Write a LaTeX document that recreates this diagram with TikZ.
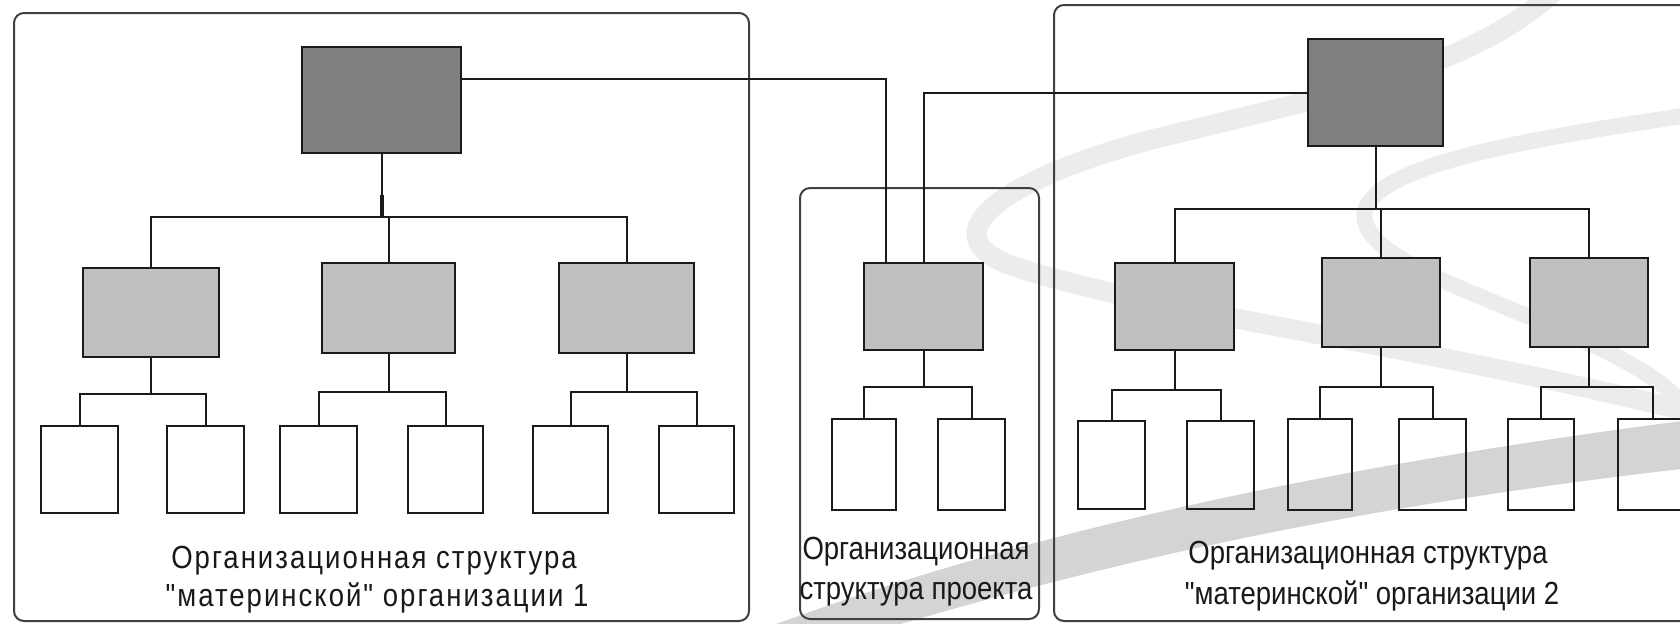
\documentclass[tikz,border=0pt]{standalone}
\usepackage{fontspec}
\setmainfont{Liberation Sans}
\newfontfamily\narrowfont[FakeStretch=0.86,Ligatures=TeXOff]{Liberation Sans}
\newfontfamily\spacedfont[FakeStretch=0.86,LetterSpace=6.3,Ligatures=TeXOff]{Liberation Sans}
\usetikzlibrary{calc}
\definecolor{darkfill}{HTML}{7F7F7F}
\definecolor{midfill}{HTML}{C0C0C0}
\definecolor{wmlight}{HTML}{ECECEC}
\definecolor{wmdark}{HTML}{D4D4D4}
\definecolor{linecol}{HTML}{1A1A1A}
\newcommand\orgbox[6]{\node[#1, minimum width={(#5-#3)*0.5pt}, minimum height={(#6-#4)*0.5pt}] (#2) at ({(#3+#5)/2},{(#4+#6)/2}) {};}
\begin{document}
\begin{tikzpicture}[x=0.5pt,y=-0.5pt,
  conn/.style={draw=linecol,line width=1pt},
  grp/.style={draw=black!75,line width=1pt,rounded corners=5pt},
  basebox/.style={draw=linecol,line width=1.3pt,inner sep=0pt,outer sep=0pt},
  topbox/.style={basebox,fill=darkfill},
  midbox/.style={basebox,fill=midfill},
  leafbox/.style={basebox},
  lbl/.style={anchor=base,inner sep=0pt,text=black!90},
  wide/.style={lbl,font=\spacedfont\fontsize{16pt}{20pt}\selectfont},
  narrow/.style={lbl,font=\narrowfont\fontsize{16pt}{20pt}\selectfont}
]
\clip (0,0) rectangle (1680,623);
\fill[white] (0,0) rectangle (1680,623);
% watermark
\fill[wmdark] (760,630) .. controls (1000,540) and (1300,470) .. (1690,420) -- (1690,468) .. controls (1300,512) and (1050,580) .. (880,630) -- cycle;
\draw[wmlight,line width=10pt] (1556,-10) .. controls (1470,70) and (1330,95) .. (1150,140) .. controls (1000,180) and (930,235) .. (1010,265) .. controls (1140,310) and (1420,345) .. (1690,412);
\draw[wmlight,line width=8pt] (1690,115) .. controls (1520,140) and (1380,165) .. (1365,210) .. controls (1355,255) and (1470,290) .. (1560,330) .. controls (1640,365) and (1680,390) .. (1690,420);
% group frames
\draw[grp] (14,13) rectangle (749,621);
\draw[grp] (800,188) rectangle (1039,619);
\draw[grp] (1054,5) rectangle (1720,621);
% top level
\orgbox{topbox}{D1}{302}{47}{461}{153}
\orgbox{topbox}{D2}{1308}{39}{1443}{146}
% middle level
\orgbox{midbox}{L1}{83}{268}{219}{357}
\orgbox{midbox}{L2}{322}{263}{455}{353}
\orgbox{midbox}{L3}{559}{263}{694}{353}
\orgbox{midbox}{P}{864}{263}{983}{350}
\orgbox{midbox}{R1}{1115}{263}{1234}{350}
\orgbox{midbox}{R2}{1322}{258}{1440}{347}
\orgbox{midbox}{R3}{1530}{258}{1648}{347}
% leaves
\orgbox{leafbox}{s1}{41}{426}{118}{513}
\orgbox{leafbox}{s2}{167}{426}{244}{513}
\orgbox{leafbox}{s3}{280}{426}{357}{513}
\orgbox{leafbox}{s4}{408}{426}{483}{513}
\orgbox{leafbox}{s5}{533}{426}{608}{513}
\orgbox{leafbox}{s6}{659}{426}{734}{513}
\orgbox{leafbox}{p1}{832}{419}{896}{510}
\orgbox{leafbox}{p2}{938}{419}{1005}{510}
\orgbox{leafbox}{r1}{1078}{421}{1145}{509}
\orgbox{leafbox}{r2}{1187}{421}{1254}{509}
\orgbox{leafbox}{r3}{1288}{419}{1352}{510}
\orgbox{leafbox}{r4}{1399}{419}{1466}{510}
\orgbox{leafbox}{r5}{1508}{419}{1574}{510}
\orgbox{leafbox}{r6}{1618}{419}{1688}{510}
% bus levels
\coordinate (busL) at (0,217);
\coordinate (busR) at (0,209);
\coordinate (blip) at (0,195);
\coordinate (sbL1) at (0,394);
\coordinate (sbL2) at (0,392);
\coordinate (sbL3) at (0,392);
\coordinate (sbP) at (0,387);
\coordinate (sbR1) at (0,390);
\coordinate (sbR2) at (0,387);
\coordinate (sbR3) at (0,387);
% left organisation
\draw[conn] (D1.south) -- (D1.south |- busL);
\draw[conn,line width=2pt] (D1.south |- blip) -- (D1.south |- busL);
\draw[conn] (L1.north) |- (L3.north |- busL) -- (L3.north);
\draw[conn] (L2.north) -- (L2.north |- busL);
\draw[conn] (L1.south) -- (L1.south |- sbL1);
\draw[conn] (s1.north) |- (s2.north |- sbL1) -- (s2.north);
\draw[conn] (L2.south) -- (L2.south |- sbL2);
\draw[conn] (s3.north) |- (s4.north |- sbL2) -- (s4.north);
\draw[conn] (L3.south) -- (L3.south |- sbL3);
\draw[conn] (s5.north) |- (s6.north |- sbL3) -- (s6.north);
% project
\coordinate (D1out) at ($(D1.north east)!0.3!(D1.south east)$);
\coordinate (Pin1) at ($(P.north west)!0.185!(P.north east)$);
\draw[conn] (D1out) -| (Pin1);
\draw[conn] (D2.west) -| (P.north);
\draw[conn] (P.south) -- (P.south |- sbP);
\draw[conn] (p1.north) |- (p2.north |- sbP) -- (p2.north);
% right organisation
\draw[conn] (D2.south) -- (D2.south |- busR);
\draw[conn] (R1.north) |- (R3.north |- busR) -- (R3.north);
\draw[conn] (R2.north) -- (R2.north |- busR);
\draw[conn] (R1.south) -- (R1.south |- sbR1);
\draw[conn] (r1.north) |- (r2.north |- sbR1) -- (r2.north);
\draw[conn] (R2.south) -- (R2.south |- sbR2);
\draw[conn] (r3.north) |- (r4.north |- sbR2) -- (r4.north);
\draw[conn] (R3.south) -- (R3.south |- sbR3);
\draw[conn] (r5.north) |- (r6.north |- sbR3) -- (r6.north);
% labels
\node[wide] (t1a) at (374,568) {Организационная структура};
\node[wide] (t1b) at (377,606) {"материнской" организации 1};
\node[narrow] (t2a) at (916,559) {Организационная};
\node[narrow] (t2b) at (916,599) {структура проекта};
\node[narrow] (t3a) at (1368,563) {Организационная структура};
\node[narrow] (t3b) at (1372,604) {"материнской" организации 2};
\end{tikzpicture}
\end{document}
